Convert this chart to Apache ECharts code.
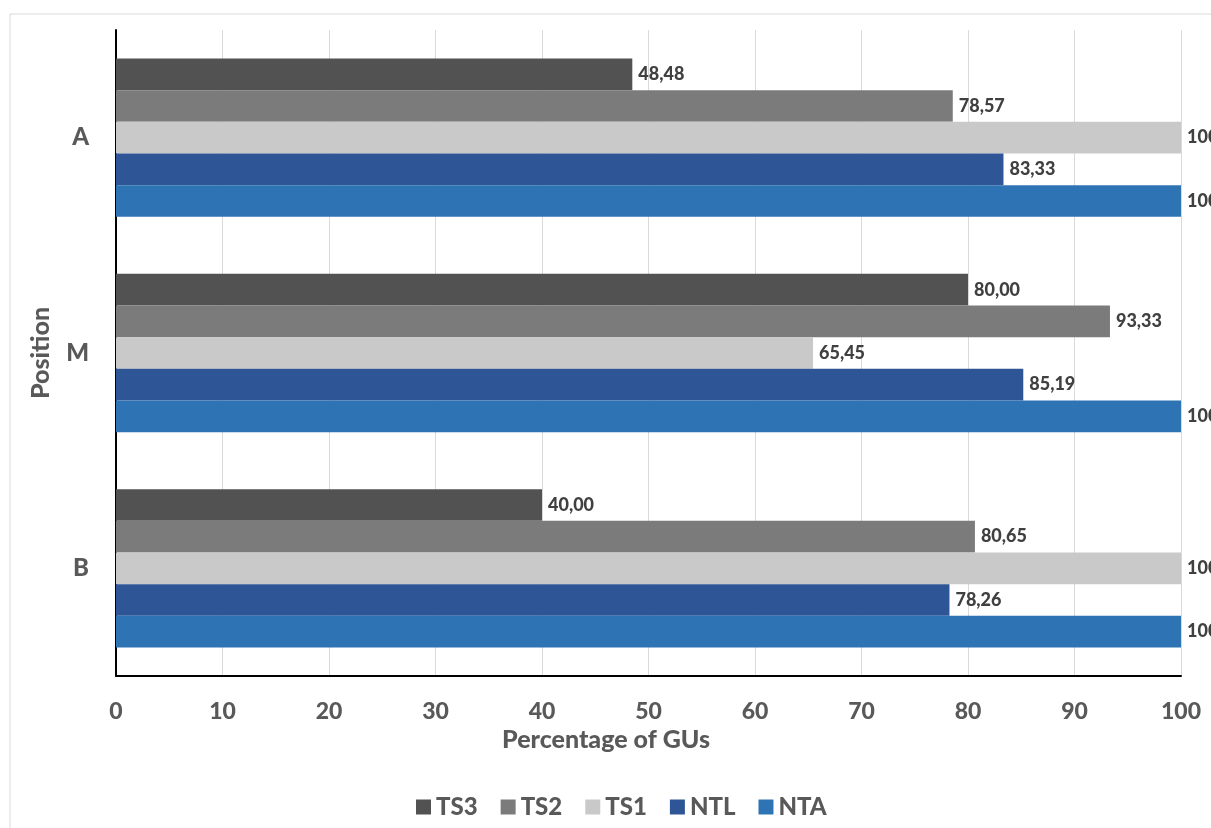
<!DOCTYPE html>
<html>
<head>
<meta charset="utf-8">
<script src="https://cdn.jsdelivr.net/npm/echarts@6/dist/echarts.min.js"></script>
<style>
  html, body { margin: 0; padding: 0; background: #fff; }
  #chart { width: 1211px; height: 828px; }
</style>
</head>
<body>
<div id="chart"></div>
<script>
// positions, listed bottom to top as the category axis draws them
const positions = ['B', 'M', 'A'];

// values per series, same order as positions (B, M, A)
const ts3 = [40.00, 80.00, 48.48];
const ts2 = [80.65, 93.33, 78.57];
const ts1 = [100, 65.45, 100];
const ntl = [78.26, 85.19, 83.33];
const nta = [100, 100, 100];

const legendOrder = ['TS3', 'TS2', 'TS1', 'NTL', 'NTA'];
const xTicks = [0, 10, 20, 30, 40, 50, 60, 70, 80, 90, 100];

const font = 'Lato, "Open Sans", sans-serif';

const fmt = p => p.value === 100 ? '100' : p.value.toFixed(2).replace('.', ',');

const makeSeries = (name, data, color) => ({
  name,
  type: 'bar',
  data,
  barGap: '0%',
  barCategoryGap: '26.5%',
  itemStyle: { color },
  label: {
    show: true,
    position: 'right',
    distance: 6,
    formatter: fmt,
    color: '#404040',
    fontWeight: 900,
    fontSize: 18,
    fontFamily: font
  }
});

const chart = echarts.init(document.getElementById('chart'));

chart.setOption({
  animation: false,
  textStyle: { fontFamily: font },
  graphic: [
    {
      type: 'rect',
      shape: { x: 10, y: 14, width: 1400, height: 1000 },
      style: { fill: 'none', stroke: '#d9d9d9', lineWidth: 1 },
      silent: true
    },
    {
      type: 'text',
      left: 502,
      top: 727,
      style: {
        text: 'Percentage of GUs',
        fill: '#595959',
        font: '900 25px ' + font
      }
    }
  ],
  grid: { left: 116, right: 30, top: 30, bottom: 152 },
  legend: {
    data: legendOrder,
    left: 411,
    top: 790,
    itemWidth: 15,
    itemHeight: 15,
    itemGap: 23,
    icon: 'rect',
    textStyle: { color: '#595959', fontSize: 24, fontWeight: 900, fontFamily: font }
  },
  xAxis: {
    type: 'value',
    min: 0,
    max: 100,
    interval: 10,
    axisLine: { show: true, lineStyle: { color: '#000', width: 2 } },
    axisTick: { show: false },
    splitLine: { show: true, lineStyle: { color: '#d9d9d9', width: 1 } },
    axisLabel: {
      margin: 24,
      color: '#595959',
      fontSize: 23,
      fontWeight: 900,
      fontFamily: font,
      formatter: v => xTicks.includes(v) ? String(v) : ''
    }
  },
  yAxis: {
    type: 'category',
    data: positions,
    name: 'Position',
    nameLocation: 'middle',
    nameGap: 63,
    nameTextStyle: { color: '#595959', fontSize: 25, fontWeight: 900, fontFamily: font },
    axisLine: { show: true, lineStyle: { color: '#000', width: 2 } },
    axisTick: { show: false },
    splitLine: { show: false },
    axisLabel: {
      margin: 27,
      color: '#595959',
      fontSize: 24,
      fontWeight: 900,
      fontFamily: font
    }
  },
  series: [
    makeSeries('TS3', ts3, '#525252'),
    makeSeries('TS2', ts2, '#7b7b7b'),
    makeSeries('TS1', ts1, '#c9c9c9'),
    makeSeries('NTL', ntl, '#2e5596'),
    makeSeries('NTA', nta, '#2e74b5')
  ]
});
</script>
</body>
</html>
